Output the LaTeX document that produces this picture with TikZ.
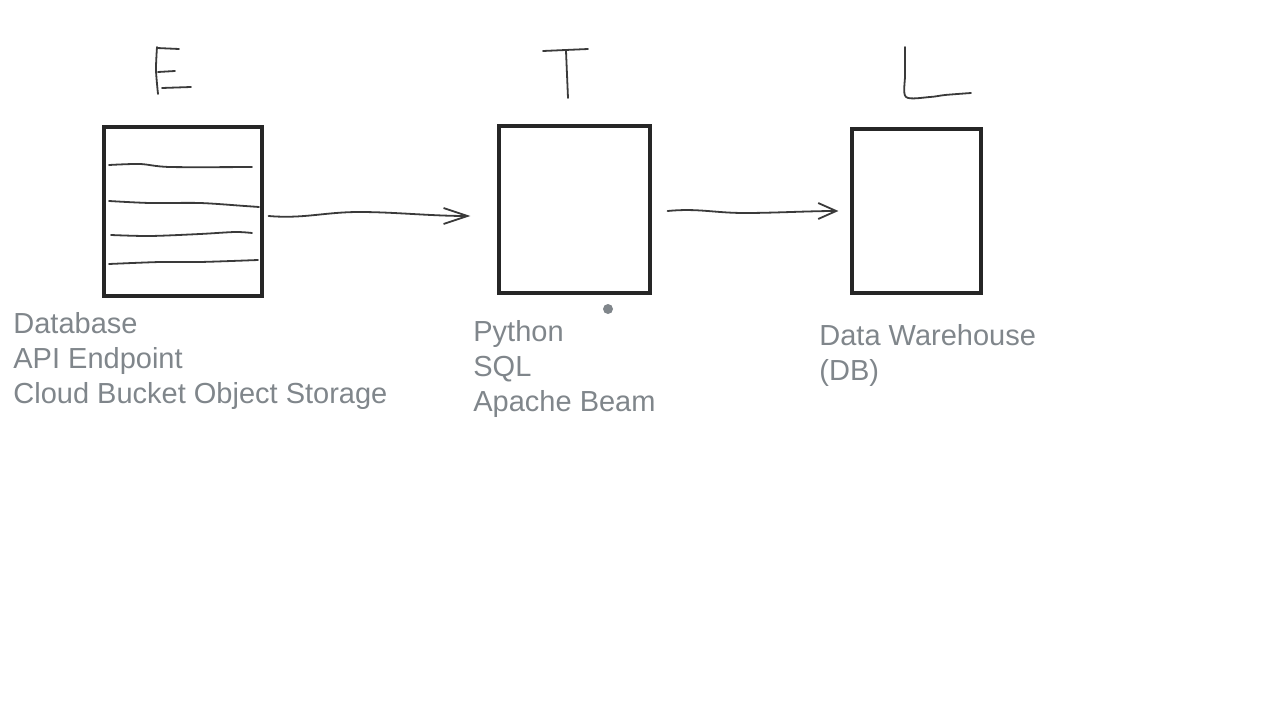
\documentclass[tikz,border=0pt]{standalone}
\usepackage{fontspec}
\setmainfont{Liberation Sans}
\usetikzlibrary{arrows.meta,calc}
\definecolor{notegray}{HTML}{80868B}
\definecolor{ink}{HTML}{262626}
\definecolor{pen}{HTML}{3A3A3A}

\begin{document}
\begin{tikzpicture}[x=0.5pt,y=-0.5pt,
		box/.style={draw=ink, line width=1.6pt, inner sep=0pt},
		hand/.style={draw=pen, line width=0.9pt, line cap=round, line join=round},
		flow/.style={hand, -{Straight Barb[length=#1,width=8pt,line width=0.9pt]}},
		flow/.default=12pt,
		note/.style={anchor=north west, inner sep=0pt, align=left, text=notegray,
			font=\fontsize{14.5}{17.5}\selectfont}
			]
	\useasboundingbox (0,0) rectangle (1274,712);

	% the three stages
	\node[box, minimum width=79pt, minimum height=84.5pt] (extract) at (183,211.5) {};
	\node[box, minimum width=75.5pt, minimum height=83.5pt] (transform) at (574.5,209.5) {};
	\node[box, minimum width=64.5pt, minimum height=82pt] (load) at (916.5,211) {};

	% rows inside the source box
	\draw[hand] plot[smooth] coordinates {(109,165) (140,164) (170,167) (252,167)};
	\draw[hand] plot[smooth] coordinates {(109,201) (150,203) (200,203) (245,206) (259,207)};
	\draw[hand] plot[smooth] coordinates {(111,235) (150,236) (200,234) (235,232) (252,233)};
	\draw[hand] plot[smooth] coordinates {(109,264) (160,262) (200,262) (258,260)};

	% letters
	\draw[hand] plot[smooth] coordinates {(157,47) (156,70) (158,94)};
	\draw[hand] (157,48) -- (179,49);
	\draw[hand] (158,72) -- (175,71);
	\draw[hand] (162,88) -- (191,87);
	\draw[hand] (543,51) -- (588,49);
	\draw[hand] (566,51) -- (568,98);
	\draw[hand] plot[smooth] coordinates {(905,47) (905,75) (906,97) (930,97) (945,95) (971,93)};

	% connectors
	\coordinate (e1) at ([xshift=2.5pt,yshift=-2.25pt]extract.east);
	\coordinate (e2) at ([xshift=-13.5pt,yshift=-3.25pt]transform.west);
	\coordinate (t1) at ([xshift=8pt,yshift=-0.75pt]transform.east);
	\coordinate (t2) at ([xshift=-6pt]load.west);
	\draw[flow] (e1) .. controls +(35,3) and +(-35,0) .. ($(e1)!0.45!(e2)+(0,-4)$)
		.. controls +(35,0) and +(-40,0) .. (e2);
	\draw[flow=9pt] (t1) .. controls +(30,-3) and +(-30,0) .. ($(t1)!0.45!(t2)+(0,2)$)
		.. controls +(30,0) and +(-30,0) .. (t2);

	% notes
	\node[note] (srcnote) at (13,312) {Database\\API Endpoint\\Cloud Bucket Object Storage};
	\node[note] (tfnote) at (473,320) {Python\\SQL\\Apache Beam};
	\node[note] (dwnote) at (819,324) {Data Warehouse\\(DB)};
	\fill[notegray] (608,309) circle (2.5pt);
\end{tikzpicture}
\end{document}
